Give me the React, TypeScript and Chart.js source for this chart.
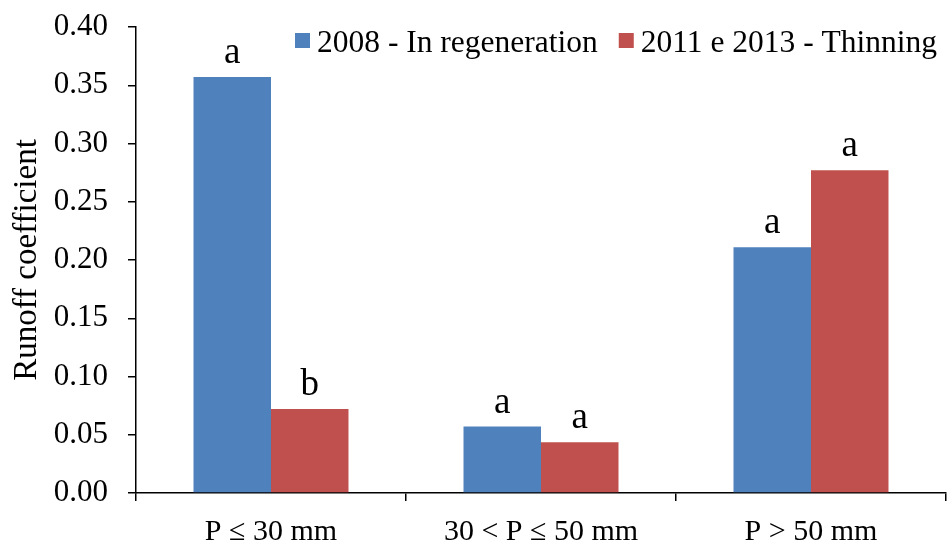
import React, { useEffect, useRef } from "react";
import { Chart, registerables } from "chart.js";

Chart.register(...registerables);

const categories = ["P ≤ 30 mm", "30 < P ≤ 50 mm", "P > 50 mm"];
const seriesNames = ["2008 - In regeneration", "2011 e 2013 - Thinning"];
const values2008 = [0.357, 0.057, 0.211];
const valuesThinning = [0.072, 0.0435, 0.277];
const letters2008 = ["a", "a", "a"];
const lettersThinning = ["b", "a", "a"];
const seriesColors = ["#4F81BD", "#C0504D"];
const yMin = 0;
const yMax = 0.4;
const yStep = 0.05;
const yTitle = "Runoff coefficient";

const FONT = "'Liberation Serif', 'Times New Roman', serif";

const lettersPlugin = {
  id: "letters",
  afterDatasetsDraw(chart: any) {
    const ctx = chart.ctx;
    const sets = [letters2008, lettersThinning];
    ctx.save();
    ctx.fillStyle = "#000";
    ctx.font = `37px ${FONT}`;
    ctx.textAlign = "center";
    ctx.textBaseline = "alphabetic";
    sets.forEach((letters, di) => {
      const meta = chart.getDatasetMeta(di);
      meta.data.forEach((bar: any, i: number) => {
        ctx.fillText(letters[i], bar.x, bar.y - 14);
      });
    });
    ctx.restore();
  },
};

const legendPlugin = {
  id: "customLegend",
  afterDraw(chart: any) {
    const ctx = chart.ctx;
    ctx.save();
    ctx.font = `31.5px ${FONT}`;
    ctx.textBaseline = "alphabetic";
    ctx.textAlign = "left";
    let x = 295;
    const box = 15;
    const baseline = 52;
    seriesNames.forEach((name, i) => {
      ctx.fillStyle = seriesColors[i];
      ctx.fillRect(x, 33, box, box);
      x += box + 7;
      ctx.fillStyle = "#000";
      ctx.fillText(name, x, baseline);
      x += ctx.measureText(name).width + 21;
    });
    ctx.restore();
  },
};

export default function App() {
  const ref = useRef<HTMLCanvasElement>(null);
  useEffect(() => {
    document.body.style.margin = "0";
    const chart = new Chart(ref.current as HTMLCanvasElement, {
      type: "bar",
      data: {
        labels: categories,
        datasets: [
          {
            label: seriesNames[0],
            data: values2008,
            backgroundColor: seriesColors[0],
            categoryPercentage: 0.574,
            barPercentage: 1,
          },
          {
            label: seriesNames[1],
            data: valuesThinning,
            backgroundColor: seriesColors[1],
            categoryPercentage: 0.574,
            barPercentage: 1,
          },
        ],
      },
      options: {
        animation: false,
        responsive: true,
        maintainAspectRatio: false,
        layout: { padding: { left: 0, top: 27, right: 3, bottom: 0 } },
        plugins: {
          legend: { display: false },
          tooltip: { enabled: false },
        },
        scales: {
          x: {
            grid: {
              display: true,
              offset: true,
              drawOnChartArea: false,
              drawTicks: true,
              tickLength: 8,
              color: "#000",
              lineWidth: 1.5,
            },
            border: { display: true, color: "#000", width: 1.5 },
            ticks: {
              color: "#000",
              font: { family: FONT, size: 30 },
              padding: 13,
              maxRotation: 0,
            },
            afterFit: (scale: any) => {
              scale.height = 52;
              scale.paddingLeft = 0;
              scale.paddingRight = 0;
            },
          },
          y: {
            min: yMin,
            max: yMax,
            grid: {
              display: true,
              drawOnChartArea: false,
              drawTicks: true,
              tickLength: 8,
              color: "#000",
              lineWidth: 1.5,
            },
            border: { display: true, color: "#000", width: 1.5 },
            ticks: {
              stepSize: yStep,
              color: "#000",
              font: { family: FONT, size: 31 },
              padding: 20,
              callback: (v: any) => Number(v).toFixed(2),
            },
            title: {
              display: true,
              text: yTitle,
              color: "#000",
              font: { family: FONT, size: 33 },
              padding: { top: 8, bottom: 0 },
            },
            afterFit: (scale: any) => {
              scale.width = 136;
              scale.paddingTop = 0;
              scale.paddingBottom = 0;
            },
          },
        },
      },
      plugins: [lettersPlugin, legendPlugin],
    });
    return () => chart.destroy();
  }, []);
  return (
    <div style={{ position: "absolute", left: 0, top: 0, width: 949, height: 545 }}>
      <canvas ref={ref} />
    </div>
  );
}
